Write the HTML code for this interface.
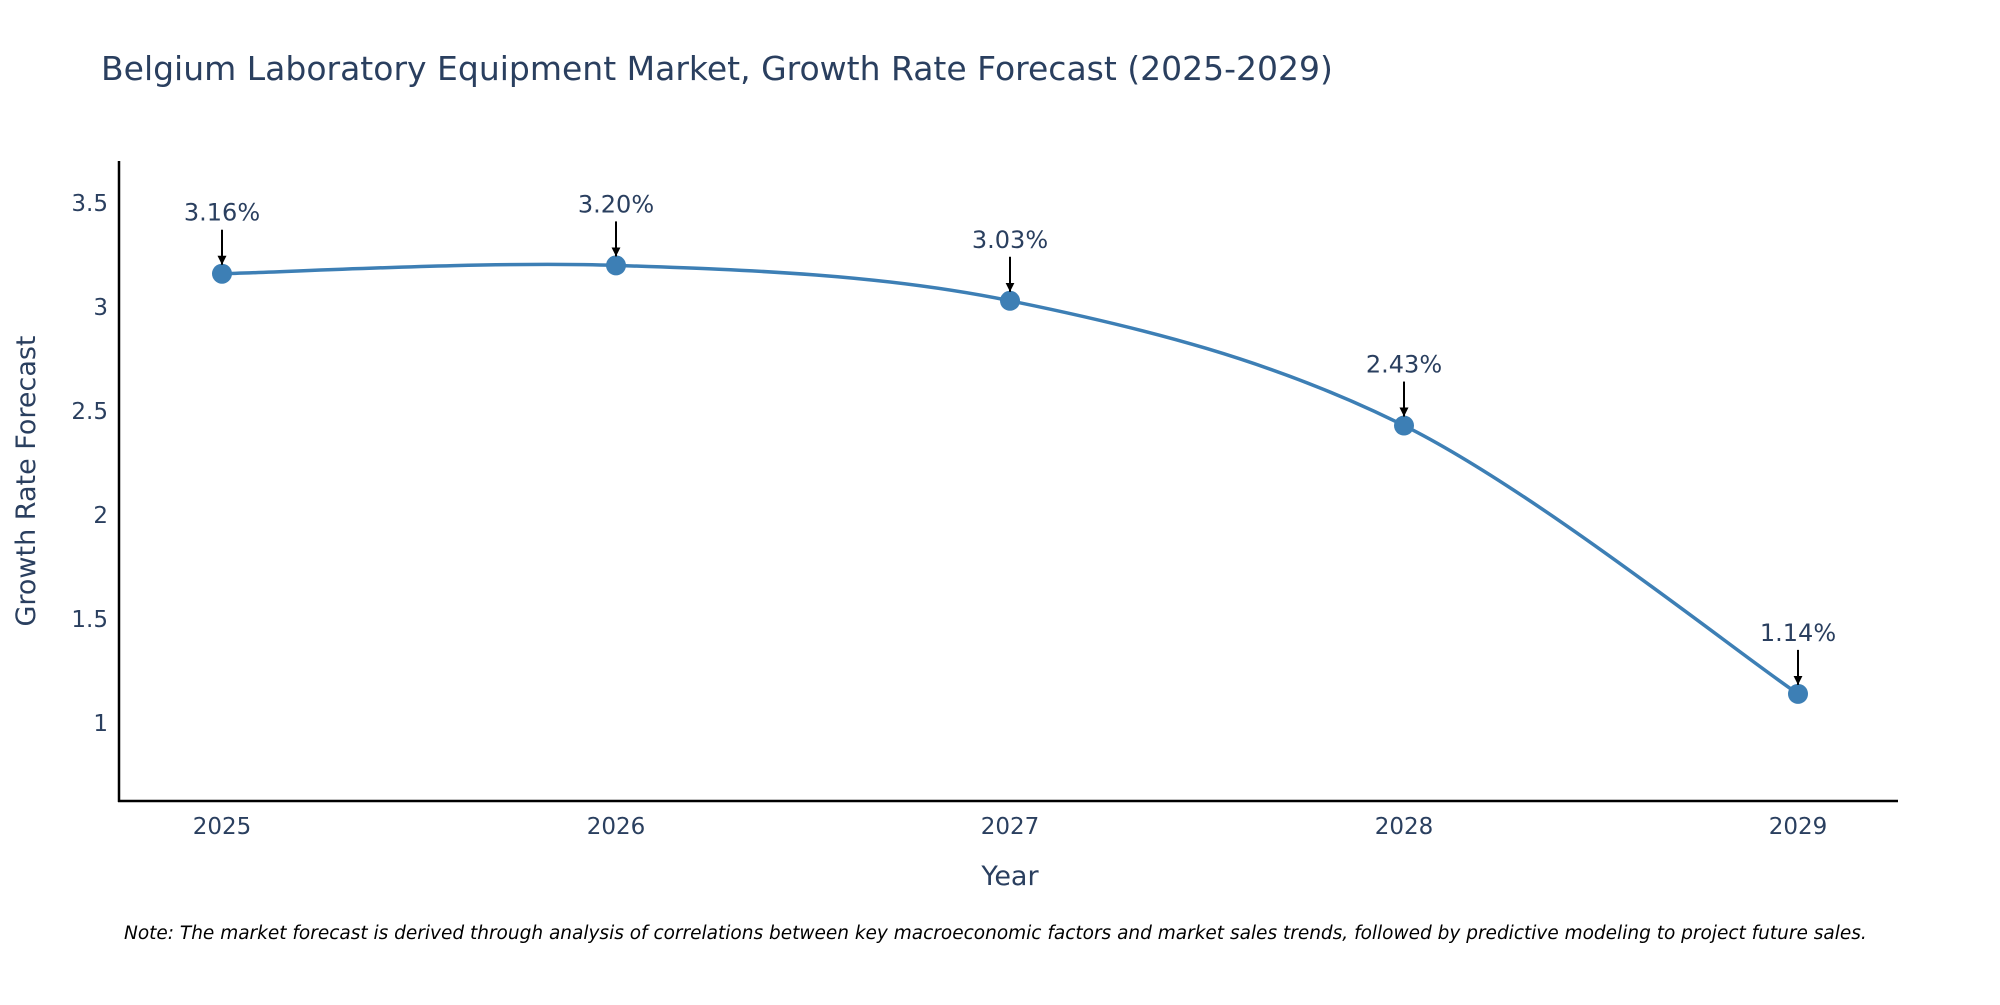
<!DOCTYPE html>
<html><head><meta charset="utf-8"><style>
body{margin:0;background:#fff;}
svg text{font-family:"DejaVu Sans","Liberation Sans",sans-serif;}
</style></head><body>
<svg width="2000" height="1000" xmlns="http://www.w3.org/2000/svg">
<defs><marker id="ah" viewBox="0 0 10 10" refX="10" refY="5" markerWidth="4.5" markerHeight="4.5" orient="auto"><path d="M0,0 L10,5 L0,10 z" fill="#000"/></marker></defs>
<text x="101" y="80" font-size="33" fill="#2a3f5f">Belgium Laboratory Equipment Market, Growth Rate Forecast (2025-2029)</text>
<g id="yt"></g><g id="xt"></g>
<line x1="119" y1="161" x2="119" y2="802" stroke="#000" stroke-width="2.5"/>
<line x1="118" y1="801" x2="1898" y2="801" stroke="#000" stroke-width="2.5"/>
<path id="ln" fill="none" stroke="#3d7fb5" stroke-width="3.5"/>
<g id="pts"></g><g id="ann"></g>
<text x="1010" y="885" font-size="27" fill="#2a3f5f" text-anchor="middle">Year</text>
<text transform="translate(35,481) rotate(-90)" font-size="27" fill="#2a3f5f" text-anchor="middle">Growth Rate Forecast</text>
<text x="124" y="939" font-size="18.5" font-style="italic" fill="#000">Note: The market forecast is derived through analysis of correlations between key macroeconomic factors and market sales trends, followed by predictive modeling to project future sales.</text>
</svg>
<script>
const years=[2025,2026,2027,2028,2029];
const values=[3.16,3.20,3.03,2.43,1.14];
const labels=["3.16%","3.20%","3.03%","2.43%","1.14%"];
const yTicks=[1,1.5,2,2.5,3,3.5];
const yTickLabels=["1","1.5","2","2.5","3","3.5"];
const NS="http://www.w3.org/2000/svg";
const xS=v=>222+(v-2025)*394;
const yS=v=>723-(v-1)*208;
function mk(t,a,p){const e=document.createElementNS(NS,t);for(const k in a)e.setAttribute(k,a[k]);document.getElementById(p).appendChild(e);return e;}
yTicks.forEach((v,i)=>{const t=mk('text',{x:108,y:yS(v)+8,'font-size':23,fill:'#2a3f5f','text-anchor':'end'},'yt');t.textContent=yTickLabels[i];

});
years.forEach(v=>{const t=mk('text',{x:xS(v),y:834,'font-size':23,fill:'#2a3f5f','text-anchor':'middle'},'xt');t.textContent=v;

});
const P=years.map((y,i)=>[xS(y),yS(values[i])]);
let d=`M${P[0][0]},${P[0][1]}`;
for(let i=0;i<P.length-1;i++){const p0=P[Math.max(i-1,0)],p1=P[i],p2=P[i+1],p3=P[Math.min(i+2,P.length-1)];const k=1/6;
d+=` C${p1[0]+(p2[0]-p0[0])*k},${p1[1]+(p2[1]-p0[1])*k} ${p2[0]-(p3[0]-p1[0])*k},${p2[1]-(p3[1]-p1[1])*k} ${p2[0]},${p2[1]}`;}
document.getElementById('ln').setAttribute('d',d);
P.forEach((p,i)=>{const c=mk('circle',{cx:p[0],cy:p[1],r:10,fill:'#3d7fb5'},'pts');


const a=mk('line',{x1:p[0],y1:p[1]-44,x2:p[0],y2:p[1]-9,stroke:'#000','stroke-width':2,'marker-end':'url(#ah)'},'ann');


const t=mk('text',{x:p[0],y:p[1]-53,'font-size':24,fill:'#2a3f5f','text-anchor':'middle'},'ann');t.textContent=labels[i];

});
</script>
</body></html>
